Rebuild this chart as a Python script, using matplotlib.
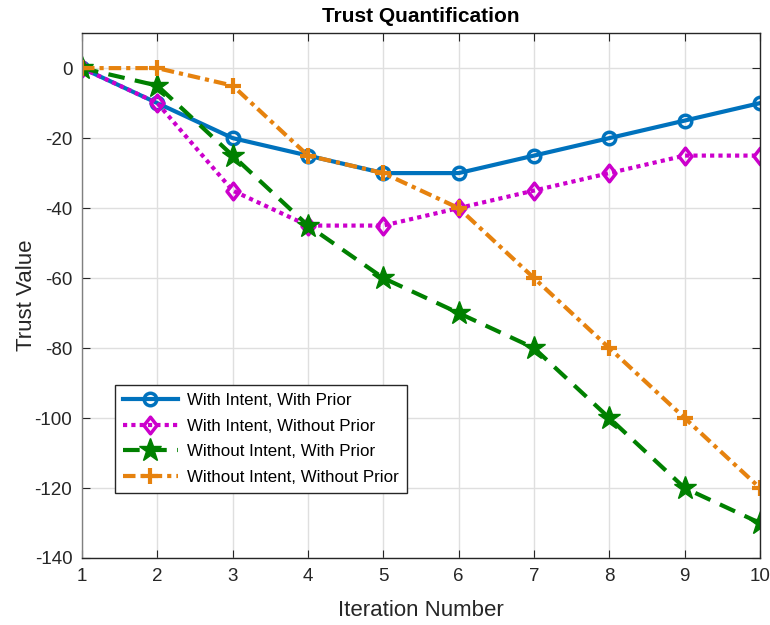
import matplotlib
matplotlib.use("Agg")
import matplotlib.pyplot as plt
from matplotlib.path import Path

plt.rcParams['font.family'] = ['Liberation Sans', 'DejaVu Sans']
plt.rcParams['axes.unicode_minus'] = False

iterations = [1, 2, 3, 4, 5, 6, 7, 8, 9, 10]
with_intent_with_prior = [0, -10, -20, -25, -30, -30, -25, -20, -15, -10]
with_intent_without_prior = [0, -10, -35, -45, -45, -40, -35, -30, -25, -25]
without_intent_with_prior = [0, -5, -25, -45, -60, -70, -80, -100, -120, -130]
without_intent_without_prior = [0, 0, -5, -25, -30, -40, -60, -80, -100, -120]
labels = ["With Intent, With Prior", "With Intent, Without Prior",
          "Without Intent, With Prior", "Without Intent, Without Prior"]

diamond = Path([(0, 1), (0.78, 0), (0, -1), (-0.78, 0), (0, 1)],
               [Path.MOVETO, Path.LINETO, Path.LINETO, Path.LINETO, Path.CLOSEPOLY])

fig = plt.figure(figsize=(7.7, 6.25), dpi=100)
ax = fig.add_axes([0.1065, 0.1072, 0.8805, 0.8398])

ax.plot(iterations, with_intent_with_prior, color='#0072BD', linestyle='-', linewidth=3,
        marker='o', markersize=9, markerfacecolor='none', markeredgewidth=2.5, label=labels[0])
ax.plot(iterations, with_intent_without_prior, color='#CC00CC', linestyle=(0, (1, 1)), linewidth=3,
        marker=diamond, markersize=12, markerfacecolor='none', markeredgewidth=2.5, label=labels[1])
ax.plot(iterations, without_intent_with_prior, color='#008000', linestyle=(0, (4, 2.5)), linewidth=3,
        marker='*', markersize=17, markerfacecolor='#008000', markeredgewidth=1, label=labels[2])
ax.plot(iterations, without_intent_without_prior, color='#E6820E', linestyle=(0, (3, 1.2, 1, 1.2)), linewidth=3,
        marker='+', markersize=12, markeredgewidth=3, label=labels[3])

ax.set_xlim(1, 10)
ax.set_ylim(-140, 10)
ax.set_xticks(range(1, 11))
ax.set_yticks(range(-140, 1, 20))
ax.grid(True, color='#DFDFDF', linewidth=1)
ax.set_axisbelow(True)
ax.tick_params(direction='in', top=True, right=True, labelsize=13.5, colors='#262626', length=6, pad=7)
for s in ax.spines.values():
    s.set_color('#262626')
    s.set_linewidth(1)
ax.spines['left'].set_color('#808080')

ax.set_title("Trust Quantification", fontsize=15, fontweight='bold', color='black', pad=8)
ax.set_xlabel("Iteration Number", fontsize=16, color='#262626', labelpad=11)
ax.set_ylabel("Trust Value", fontsize=16, color='#262626', labelpad=-2)

leg = ax.legend(loc='lower left', bbox_to_anchor=(0.048, 0.124), fontsize=12.2, frameon=True,
                fancybox=False, edgecolor='#262626', framealpha=1, handlelength=3.3,
                borderpad=0.47, labelspacing=0.63, borderaxespad=0, handletextpad=0.5)
leg.get_frame().set_linewidth(1)

fig.savefig("out.png", dpi=100)
